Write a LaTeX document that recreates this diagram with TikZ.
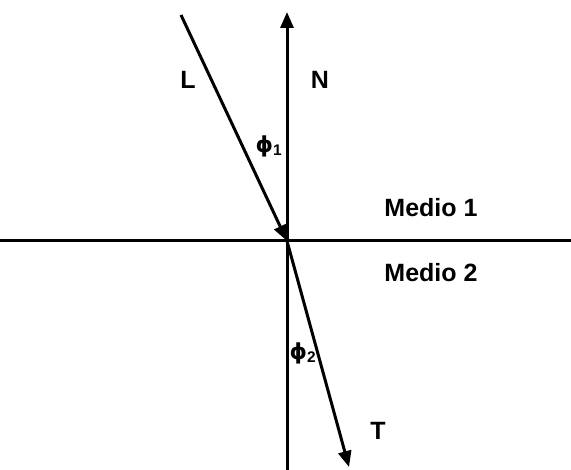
\documentclass[tikz,border=0pt]{standalone}
\usepackage{fontspec}
\setmainfont{Liberation Sans}
\newfontfamily\phifont{DejaVu Sans}
\usetikzlibrary{arrows.meta}

\begin{document}
\begin{tikzpicture}[x=1pt,y=-1pt,
  axis/.style={line width=3pt},
  ray/.style={line width=3pt,-{Triangle[length=16pt,width=13pt]}},
  lbl/.style={font=\fontsize{25}{25}\selectfont\bfseries,inner sep=0pt},
  ang/.style={font=\fontsize{22}{22}\selectfont\bfseries,inner sep=0pt}]
\useasboundingbox (0,0) rectangle (571,470);
% interface and normal
\coordinate (O) at (287,241);
\coordinate (W) at (0,241);\coordinate (E) at (571,241);
\coordinate (Ntop) at (287,12);\coordinate (Sbot) at (287,470);
\coordinate (Lsrc) at (181,15);\coordinate (Tend) at (349,467);
\draw[axis] (W)--(E);
\draw[axis] (O)--(Sbot);
\draw[ray] (O)--(Ntop);
% incident and refracted rays
\draw[ray] (Lsrc)--(O);
\draw[ray] (O)--(Tend);
\node[lbl] (lL) at (188,80) {L};
\node[lbl] (lN) at (320,80) {N};
\node[lbl] (lT) at (378,431) {T};
\node[lbl] (m1) at (431,208) {Medio 1};
\node[lbl] (m2) at (431,273) {Medio 2};
\node[ang] (p1) at (269,146) {{\phifont ϕ}\textsubscript{1}};
\node[ang] (p2) at (303,353) {{\phifont ϕ}\textsubscript{2}};
\end{tikzpicture}
\end{document}
